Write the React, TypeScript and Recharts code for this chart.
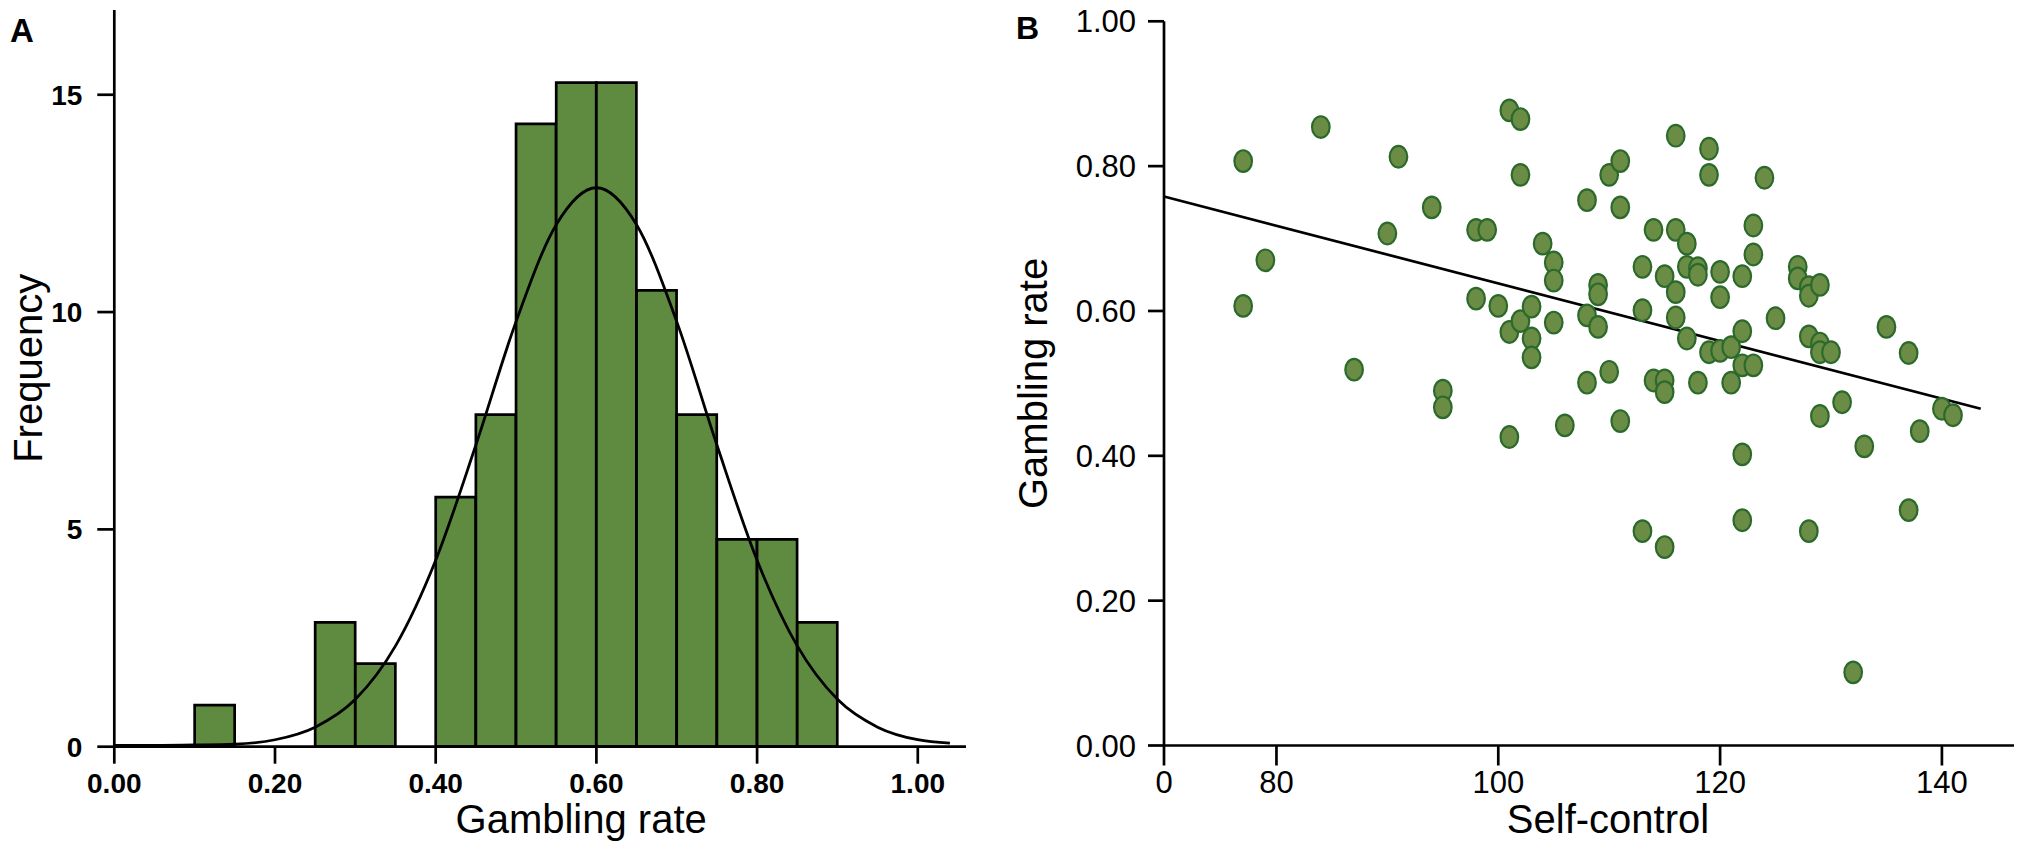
import React from 'react';
import {
  ComposedChart,
  LineChart,
  ScatterChart,
  Bar,
  Line,
  Scatter,
  XAxis,
  YAxis,
  ReferenceLine,
  Label,
} from 'recharts';

// ---------- Panel A: histogram of gambling rate ----------
const binCenters = [0.125, 0.175, 0.225, 0.275, 0.325, 0.375, 0.425, 0.475, 0.525, 0.575, 0.625, 0.675, 0.725, 0.775, 0.825, 0.875];
const binFrequency = [0.955, 0, 0, 2.86, 1.91, 0, 5.74, 7.64, 14.33, 15.28, 15.28, 10.5, 7.64, 4.77, 4.77, 2.86];
const curveRate = [0, 0.05, 0.1, 0.15, 0.2, 0.25, 0.3, 0.35, 0.4, 0.45, 0.5, 0.55, 0.6, 0.65, 0.7, 0.75, 0.8, 0.85, 0.9, 0.95, 1.0, 1.04];
const curveFrequency = [0.03, 0.03, 0.04, 0.06, 0.16, 0.45, 1.09, 2.32, 4.29, 6.94, 9.78, 12.01, 12.86, 12.01, 9.78, 6.94, 4.29, 2.32, 1.09, 0.45, 0.16, 0.08];
const rateTicks = [0, 0.2, 0.4, 0.6, 0.8, 1.0];
const frequencyTicks = [0, 5, 10, 15];

// ---------- Panel B: scatter of self-control vs gambling rate ----------
const selfControl = [77, 77, 79, 84, 87, 90, 91, 94, 95, 95, 98, 99, 98, 100, 101, 102, 102, 101, 101, 102, 103, 103, 103, 104, 105, 105, 105, 106, 108, 108, 108, 109, 109, 109, 110, 110, 111, 111, 111, 113, 113, 113, 114, 114, 115, 115, 115, 115, 116, 116, 116, 116, 117, 117, 117, 118, 118, 118, 119, 119, 119, 120, 120, 120, 121, 121, 122, 122, 122, 122, 122, 123, 123, 123, 124, 125, 127, 127, 128, 128, 129, 128, 129, 129, 130, 128, 129, 131, 132, 133, 135, 137, 137, 138, 140, 141];
const gamblingRate = [0.807, 0.607, 0.67, 0.854, 0.519, 0.707, 0.813, 0.743, 0.49, 0.467, 0.712, 0.712, 0.617, 0.607, 0.877, 0.865, 0.788, 0.571, 0.426, 0.586, 0.606, 0.562, 0.536, 0.693, 0.667, 0.642, 0.584, 0.442, 0.753, 0.594, 0.501, 0.636, 0.623, 0.578, 0.788, 0.516, 0.807, 0.743, 0.448, 0.661, 0.601, 0.296, 0.712, 0.504, 0.648, 0.504, 0.488, 0.274, 0.842, 0.712, 0.626, 0.591, 0.693, 0.661, 0.562, 0.659, 0.65, 0.501, 0.824, 0.788, 0.543, 0.654, 0.619, 0.545, 0.55, 0.501, 0.648, 0.572, 0.525, 0.402, 0.311, 0.718, 0.678, 0.525, 0.784, 0.59, 0.661, 0.645, 0.633, 0.621, 0.636, 0.565, 0.555, 0.543, 0.543, 0.296, 0.455, 0.474, 0.101, 0.413, 0.578, 0.542, 0.325, 0.434, 0.465, 0.456];
const fitSelfControl = [69.86, 143.5];
const fitGamblingRate = [0.758, 0.465];
const selfControlTicks = [69.86, 80, 100, 120, 140];
const gamblingRateTicks = [0, 0.2, 0.4, 0.6, 0.8, 1.0];

const histData = binCenters.map((rate, i) => ({ rate, frequency: binFrequency[i] }));
const curveData = curveRate.map((rate, i) => ({ rate, frequency: curveFrequency[i] }));
const scatterData = selfControl.map((sc, i) => ({ selfControl: sc, gamblingRate: gamblingRate[i] }));

const FONT = "'Liberation Sans', Arial, Helvetica, sans-serif";
const NARROW = "'Liberation Sans Narrow', 'Arial Narrow', 'Liberation Sans', Arial, sans-serif";
const H = 856;
const A_W = 1000;
const B_LEFT = 1000;
const B_W = 1023;
const BAR_FILL = '#5E8B3F';
const AXIS = { stroke: '#000', strokeWidth: 2.7 };

const aMargin = { top: 10, right: 34, bottom: 0, left: 0 };
const A_XAXIS_H = 109.3;
const A_YAXIS_W = 114.3;
const A_YMAX = 16.95;

const Dot = (props: any) => {
  const { cx, cy } = props;
  if (cx == null || cy == null) return null;
  return <ellipse cx={cx} cy={cy} rx={8.8} ry={10.8} fill="#6A8C45" stroke="#2C6A2C" strokeWidth={2.2} />;
};

export default function App() {
  return (
    <div style={{ position: 'absolute', left: 0, top: 0, width: 2023, height: H, background: '#fff', fontFamily: FONT }}>
      {/* Panel A */}
      <div style={{ position: 'absolute', left: 0, top: 0, width: A_W, height: H }}>
        <ComposedChart width={A_W} height={H} data={histData} margin={aMargin} barCategoryGap={0} barGap={0}>
          <XAxis
            type="number"
            dataKey="rate"
            domain={[0, 1.06]}
            ticks={rateTicks}
            interval={0}
            allowDataOverflow
            tickFormatter={(v: number) => v.toFixed(2)}
            height={A_XAXIS_H}
            tickSize={17}
            tickMargin={9}
            axisLine={AXIS}
            tickLine={AXIS}
            tick={{ fill: '#000', fontSize: 28, fontWeight: 700, fontFamily: FONT }}
          >
            <Label value="Gambling rate" position="insideBottom" offset={23} dx={41} fill="#000" fontSize={40} fontFamily={FONT} />
          </XAxis>
          <YAxis
            type="number"
            domain={[0, A_YMAX]}
            ticks={frequencyTicks}
            interval={0}
            allowDataOverflow
            width={A_YAXIS_W}
            tickSize={17}
            tickMargin={15}
            axisLine={AXIS}
            tickLine={AXIS}
            tick={{ fill: '#000', fontSize: 28, fontWeight: 700, fontFamily: FONT }}
          >
            <Label value="Frequency" position="center" angle={-90} dx={-29} dy={-10} fill="#000" fontSize={40} fontFamily={FONT} />
          </YAxis>
          <Bar dataKey="frequency" fill={BAR_FILL} stroke="#000" strokeWidth={2.7} isAnimationActive={false} />
        </ComposedChart>
      </div>
      {/* Panel A normal curve overlay */}
      <div style={{ position: 'absolute', left: 0, top: 0, width: A_W, height: H, pointerEvents: 'none' }}>
        <LineChart
          width={A_W}
          height={H}
          data={curveData}
          margin={{ top: aMargin.top, right: aMargin.right, bottom: A_XAXIS_H, left: A_YAXIS_W }}
        >
          <XAxis hide type="number" dataKey="rate" domain={[0, 1.06]} allowDataOverflow />
          <YAxis hide type="number" domain={[0, A_YMAX]} allowDataOverflow />
          <Line dataKey="frequency" type="monotone" stroke="#000" strokeWidth={2.8} dot={false} isAnimationActive={false} />
        </LineChart>
      </div>
      <div style={{ position: 'absolute', left: 10, top: 14, fontSize: 33, lineHeight: '33px', fontWeight: 700, fontFamily: FONT, color: '#000' }}>A</div>

      {/* Panel B */}
      <div style={{ position: 'absolute', left: B_LEFT, top: 0, width: B_W, height: H }}>
        <ScatterChart width={B_W} height={H} margin={{ top: 21.3, right: 9, bottom: 0, left: 0 }}>
          <XAxis
            type="number"
            dataKey="selfControl"
            domain={[selfControlTicks[0], 146.5]}
            ticks={selfControlTicks}
            interval={0}
            allowDataOverflow
            tickFormatter={(v: number) => (v < 70 ? '0' : String(v))}
            height={110.5}
            tickSize={20}
            tickMargin={5}
            axisLine={AXIS}
            tickLine={AXIS}
            tick={{ fill: '#000', fontSize: 31, fontFamily: NARROW }}
          >
            <Label value="Self-control" position="insideBottom" offset={23} dx={19} fill="#000" fontSize={40} fontFamily={FONT} />
          </XAxis>
          <YAxis
            type="number"
            dataKey="gamblingRate"
            domain={[0, 1]}
            ticks={gamblingRateTicks}
            interval={0}
            allowDataOverflow
            tickFormatter={(v: number) => v.toFixed(2)}
            width={164}
            tickSize={16}
            tickMargin={12}
            axisLine={AXIS}
            tickLine={AXIS}
            tick={{ fill: '#000', fontSize: 31, fontFamily: NARROW }}
          >
            <Label value="Gambling rate" position="center" angle={-90} dx={-49} fill="#000" fontSize={40} fontFamily={FONT} />
          </YAxis>
          <ReferenceLine
            segment={[
              { x: fitSelfControl[0], y: fitGamblingRate[0] },
              { x: fitSelfControl[1], y: fitGamblingRate[1] },
            ]}
            stroke="#000"
            strokeWidth={2.7}
            ifOverflow="visible"
          />
          <Scatter data={scatterData} shape={Dot} isAnimationActive={false} />
        </ScatterChart>
      </div>
      <div style={{ position: 'absolute', left: 1016, top: 12, fontSize: 32, lineHeight: '32px', fontWeight: 700, fontFamily: FONT, color: '#000' }}>B</div>
    </div>
  );
}
